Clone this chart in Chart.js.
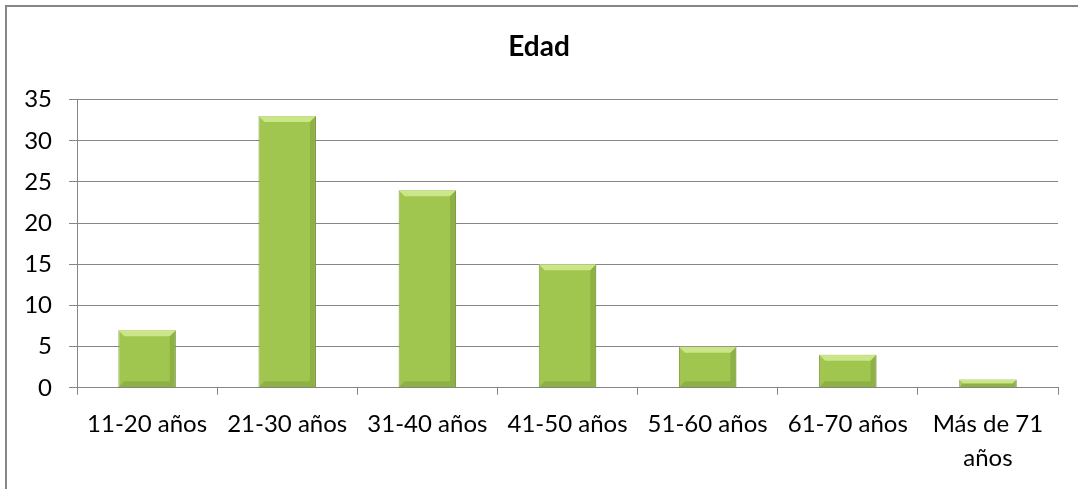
<!DOCTYPE html>
<html>
<head>
<meta charset="utf-8">
<script src="https://cdn.jsdelivr.net/npm/chart.js@4/dist/chart.umd.min.js"></script>
<style>
  html, body { margin: 0; padding: 0; background: #fff; }
  #wrap { width: 1078px; height: 489px; position: relative; }
</style>
</head>
<body>
<div id="wrap"><canvas id="c" width="1078" height="489"></canvas></div>
<script>
// Datos
const categorias = ['11-20 años', '21-30 años', '31-40 años', '41-50 años', '51-60 años', '61-70 años', ['Más de 71', 'años']];
const valores = [7, 33, 24, 15, 5, 4, 1];
const tituloGrafico = 'Edad';

const FONT = "Lato, 'Open Sans', sans-serif";

// marco exterior del gráfico (sólo se ven el borde superior e izquierdo)
const marco = {
  id: 'marco',
  afterDraw(chart) {
    const ctx = chart.ctx;
    ctx.save();
    ctx.strokeStyle = '#868686';
    ctx.lineWidth = 2;
    ctx.strokeRect(6, 6, 1090, 500);
    ctx.restore();
  }
};

// relieve de las barras
const relieve = {
  id: 'relieve',
  afterDatasetsDraw(chart) {
    const ctx = chart.ctx;
    const meta = chart.getDatasetMeta(0);
    ctx.save();
    meta.data.forEach(bar => {
      const w = bar.width;
      const x0 = bar.x - w / 2, x1 = bar.x + w / 2;
      const y0 = bar.y, y1 = bar.base;
      const b = Math.min(6, (y1 - y0) / 2);
      // franja superior clara
      ctx.fillStyle = 'rgba(212,238,150,0.8)';
      ctx.beginPath();
      ctx.moveTo(x0, y0); ctx.lineTo(x1, y0); ctx.lineTo(x1 - b, y0 + b); ctx.lineTo(x0 + b, y0 + b);
      ctx.closePath(); ctx.fill();
      // franja inferior
      ctx.fillStyle = 'rgba(100,130,45,0.3)';
      ctx.beginPath();
      ctx.moveTo(x0, y1); ctx.lineTo(x1, y1); ctx.lineTo(x1 - b, y1 - b); ctx.lineTo(x0 + b, y1 - b);
      ctx.closePath(); ctx.fill();
      // sombra derecha
      ctx.fillStyle = 'rgba(100,130,45,0.3)';
      ctx.beginPath();
      ctx.moveTo(x1, y0); ctx.lineTo(x1, y1); ctx.lineTo(x1 - b, y1 - b); ctx.lineTo(x1 - b, y0 + b);
      ctx.closePath(); ctx.fill();
    });
    ctx.restore();
  }
};

new Chart(document.getElementById('c'), {
  type: 'bar',
  data: {
    labels: categorias,
    datasets: [{
      label: tituloGrafico,
      data: valores,
      backgroundColor: function(context) {
        const el = context.element;
        if (!el || !el.width) return '#a0c64f';
        const g = context.chart.ctx.createLinearGradient(el.x - el.width / 2, 0, el.x + el.width / 2, 0);
        g.addColorStop(0, '#8fb43f');
        g.addColorStop(0.15, '#a5ca55');
        g.addColorStop(0.85, '#a5ca55');
        g.addColorStop(1, '#88aa3d');
        return g;
      },
      borderColor: '#7e9e3a',
      borderWidth: 1,
      barPercentage: 0.41,
      categoryPercentage: 1
    }]
  },
  options: {
    responsive: false,
    animation: false,
    layout: { padding: { left: 20, right: 20, top: 0, bottom: 1 } },
    plugins: {
      legend: { display: false },
      tooltip: { enabled: false },
      title: {
        display: true,
        text: tituloGrafico,
        color: '#000',
        font: { family: FONT, size: 28, weight: 'bold' },
        padding: { top: 30, bottom: 36 }
      }
    },
    scales: {
      x: {
        grid: { display: true, drawOnChartArea: false, color: '#868686', tickLength: 7, offset: true },
        border: { color: '#868686' },
        ticks: { color: '#000', font: { family: FONT, size: 24, lineHeight: 1.4 }, maxRotation: 0, autoSkip: false, padding: 13 }
      },
      y: {
        min: 0, max: 35,
        afterFit(s) { s.width = 57; },
        grid: { color: '#868686', tickLength: 8 },
        border: { color: '#868686' },
        ticks: { stepSize: 5, color: '#000', font: { family: FONT, size: 24 }, padding: 17 }
      }
    }
  },
  plugins: [marco, relieve]
});
</script>
</body>
</html>
